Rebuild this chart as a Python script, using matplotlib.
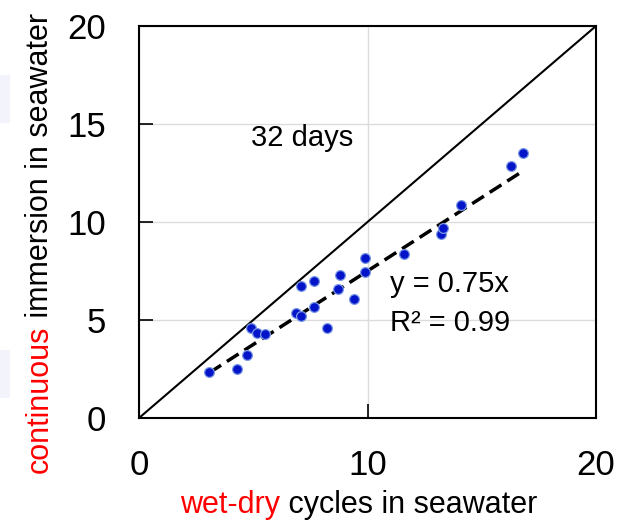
import matplotlib
matplotlib.use("Agg")
from matplotlib import pyplot as plt
from matplotlib.patches import Rectangle
import numpy as np

# wet-dry cycles (x) vs continuous immersion (y), 32 days
wet_dry = [3.08, 4.29, 4.74, 4.90, 5.16, 5.51, 6.89, 7.09, 7.09, 7.67, 7.67,
           8.21, 8.69, 8.81, 9.42, 9.89, 9.89, 11.61, 13.20, 13.29, 14.08,
           16.27, 16.82]
continuous = [2.33, 2.50, 3.20, 4.58, 4.34, 4.27, 5.37, 5.19, 6.75, 5.66, 6.97,
              4.58, 6.60, 7.30, 6.05, 7.45, 8.15, 8.37, 9.39, 9.69, 10.87,
              12.87, 13.54]
slope = 0.75
x_ticks = [0, 10, 20]
y_ticks = [0, 5, 10, 15, 20]

plt.rcParams['font.family'] = ['Liberation Sans', 'DejaVu Sans']

fig = plt.figure(figsize=(6.28, 5.25), dpi=100)

# faint leftover boxes at the left edge
for y0 in (75, 350):
    fig.patches.append(Rectangle((0, 1 - (y0 + 48)/525), 10/628, 48/525,
                                 transform=fig.transFigure, facecolor='#f3f4fb',
                                 edgecolor='none'))

ax = fig.add_axes([139/628, 107/525, 457/628, 392/525])

ax.set_xlim(0, 20)
ax.set_ylim(0, 20)
ax.set_xticks(x_ticks)
ax.set_yticks(y_ticks)
ax.grid(True, color='#dcdcdc', linewidth=1)
ax.set_axisbelow(True)
ax.tick_params(direction='in', length=10, width=1.2, labelsize=25, pad=22)
ax.tick_params(axis='y', pad=24)
for s in ax.spines.values():
    s.set_linewidth(1.5)

# 1:1 line
ax.plot([0, 20], [0, 20], color='black', linewidth=1.5)

# fitted line
xf = np.array([min(wet_dry), max(wet_dry)])
ax.plot(xf, slope * xf, color='black', linestyle='--', linewidth=2.5, dashes=(4, 2))

ax.scatter(wet_dry, continuous, s=50, color='#0414c8', edgecolor='#7d9ae6',
           linewidth=0.9, zorder=3)

ax.text(7.13, 14.3, '32 days', fontsize=21, ha='center', va='center')
ax.text(11.0, 6.85, 'y = 0.75x', fontsize=21, ha='left', va='center')
ax.text(11.0, 4.85, 'R² = 0.99', fontsize=21, ha='left', va='center')

# x label in two colours
t1 = fig.text(180/628, 1 - 520/525, 'wet-dry', color='red', fontsize=22,
              ha='left', va='bottom')
ax.annotate(' cycles in seawater', xy=(1, 0), xycoords=t1, fontsize=22,
            ha='left', va='bottom', color='black', annotation_clip=False)

# y label in two colours
t2 = fig.text(40/628, 1 - 473/525, 'continuous', color='red', fontsize=22,
              rotation=90, ha='center', va='bottom')
ax.annotate(' immersion in seawater', xy=(0.5, 1), xycoords=t2, fontsize=22,
            rotation=90, ha='center', va='bottom', color='black',
            annotation_clip=False)

plt.savefig('out.png', dpi=100)
